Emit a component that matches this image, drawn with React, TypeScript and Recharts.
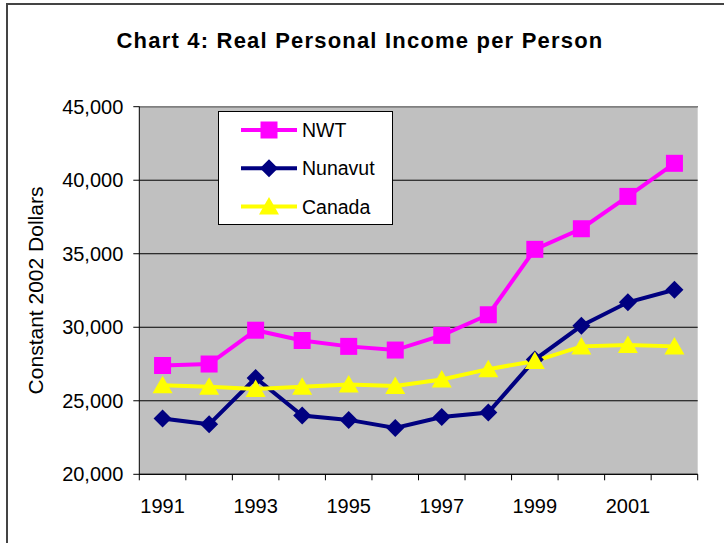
import React from 'react';
import { ComposedChart, Line, XAxis, YAxis, CartesianGrid, ReferenceLine, Legend } from 'recharts';

const years = ['1991', '1992', '1993', '1994', '1995', '1996', '1997', '1998', '1999', '2000', '2001', '2002'];
const nwt = [27400, 27500, 29800, 29100, 28700, 28450, 29450, 30850, 35300, 36700, 38900, 41150];
const nunavut = [23800, 23400, 26550, 24000, 23700, 23150, 23900, 24200, 27800, 30100, 31700, 32550];
const canada = [26050, 25950, 25800, 25950, 26100, 26000, 26450, 27150, 27700, 28700, 28800, 28700];
const yTicks = [20000, 25000, 30000, 35000, 40000, 45000];
const seriesOrder = ['NWT', 'Nunavut', 'Canada'];

const data = years.map((y, i) => ({ year: y, NWT: nwt[i], Nunavut: nunavut[i], Canada: canada[i] }));

const FONT = "Arial, 'Liberation Sans', sans-serif";
const X_TICK_SIZE = 6;
const X_TICK_MARGIN = 18;

const Square = ({ cx, cy, color, s = 8.5 }: any) => (
  <rect x={cx - s} y={cy - s} width={2 * s} height={2 * s} fill={color} />
);
const Diamond = ({ cx, cy, color, r = 9 }: any) => (
  <polygon points={`${cx},${cy - r} ${cx + r},${cy} ${cx},${cy + r} ${cx - r},${cy}`} fill={color} />
);
const Triangle = ({ cx, cy, color }: any) => (
  <polygon points={`${cx},${cy - 9.5} ${cx + 10},${cy + 8} ${cx - 10},${cy + 8}`} fill={color} />
);

const markerFor = (name: string, cx: number, cy: number, color: string) => {
  if (name === 'NWT') return <Square cx={cx} cy={cy} color={color} />;
  if (name === 'Nunavut') return <Diamond cx={cx} cy={cy} color={color} />;
  return <Triangle cx={cx} cy={cy} color={color} />;
};

const makeDot = (name: string, color: string) => (props: any) => {
  const { cx, cy, index } = props;
  if (cx == null || cy == null) return <g key={`${name}-${index}`} />;
  return <g key={`${name}-${index}`}>{markerFor(name, cx, cy, color)}</g>;
};

const XTick = (props: any) => {
  const { x, y, payload, index } = props;
  const half = payload && typeof payload.offset === 'number' ? payload.offset : 0;
  const axisY = y - X_TICK_SIZE - X_TICK_MARGIN;
  return (
    <g>
      <line x1={x - half} x2={x - half} y1={axisY} y2={axisY + X_TICK_SIZE} stroke="#000" strokeWidth={1} />
      {index === years.length - 1 && (
        <line x1={x + half} x2={x + half} y1={axisY} y2={axisY + X_TICK_SIZE} stroke="#000" strokeWidth={1} />
      )}
      {index % 2 === 0 && (
        <text x={x} y={y} dy="0.71em" textAnchor="middle" fontSize={20} fill="#000" fontFamily={FONT}>
          {payload.value}
        </text>
      )}
    </g>
  );
};

const LegendBox = (props: any) => {
  const items = (props.payload || [])
    .filter((p: any) => p.type !== 'none')
    .slice()
    .sort((a: any, b: any) => seriesOrder.indexOf(a.value) - seriesOrder.indexOf(b.value));
  return (
    <div style={{ width: 175, height: 114, background: '#fff', border: '1px solid #000', boxSizing: 'border-box' }}>
      <svg width={173} height={112} style={{ display: 'block' }}>
        {items.map((it: any, i: number) => {
          const cy = 18 + i * 38.3;
          return (
            <g key={it.value}>
              <line x1={22} x2={78} y1={cy} y2={cy} stroke={it.color} strokeWidth={4} />
              {markerFor(it.value, 50, cy, it.color)}
              <text x={83} y={cy} dy="0.36em" fontSize={19.5} fontFamily={FONT} fill="#000">
                {it.value}
              </text>
            </g>
          );
        })}
      </svg>
    </div>
  );
};

export default function App() {
  return (
    <div style={{ position: 'absolute', left: 0, top: 0, width: 724, height: 543, overflow: 'hidden', background: '#fff', fontFamily: FONT }}>
      <div style={{ position: 'absolute', left: 6, top: 3, width: 900, height: 900, border: '2px solid #444' }} />
      <div
        style={{
          position: 'absolute',
          left: 0,
          top: 29.7,
          width: 720,
          textAlign: 'center',
          fontSize: 22,
          lineHeight: '22px',
          fontWeight: 'bold',
          letterSpacing: '1.2px',
          color: '#000',
          fontFamily: FONT,
        }}
      >
        Chart 4: Real Personal Income per Person
      </div>
      <div style={{ position: 'absolute', left: 0, top: 0 }}>
        <ComposedChart
          width={724}
          height={543}
          data={data}
          margin={{ top: 106.7, right: 26.3, bottom: 0, left: 0 }}
          style={{ fontFamily: FONT }}
        >
          <CartesianGrid vertical={false} fill="#C0C0C0" stroke="#000" strokeWidth={1} />
          <XAxis
            dataKey="year"
            scale="band"
            height={68.7}
            interval={0}
            tickLine={false}
            tickSize={X_TICK_SIZE}
            tickMargin={X_TICK_MARGIN}
            tick={<XTick />}
            axisLine={{ stroke: '#000', strokeWidth: 1 }}
          />
          <YAxis
            width={139.3}
            domain={[20000, 45000]}
            ticks={yTicks}
            interval={0}
            tickSize={6}
            tickMargin={10}
            tickLine={{ stroke: '#000' }}
            axisLine={{ stroke: '#000', strokeWidth: 1 }}
            tick={{ fontSize: 20, fill: '#000', fontFamily: FONT }}
            tickFormatter={(v: number) => v.toLocaleString('en-US')}
            label={{
              value: 'Constant 2002 Dollars',
              angle: -90,
              position: 'center',
              dx: -34.5,
              style: { fontSize: 21, fill: '#000', fontFamily: FONT },
            }}
          />
          <YAxis
            yAxisId="r"
            orientation="right"
            width={0}
            domain={[20000, 45000]}
            tick={false}
            tickLine={false}
            axisLine={{ stroke: '#808080', strokeWidth: 1.5 }}
          />
          <ReferenceLine y={45000} stroke="#808080" strokeWidth={1.5} />
          <Legend
            layout="horizontal"
            verticalAlign="middle"
            align="center"
            content={<LegendBox />}
            wrapperStyle={{ position: 'absolute', left: 217.7, top: 110.7, width: 175, height: 114 }}
          />
          <Line
            dataKey="NWT"
            name="NWT"
            stroke="#FF00FF"
            strokeWidth={4}
            dot={makeDot('NWT', '#FF00FF')}
            activeDot={false}
            isAnimationActive={false}
          />
          <Line
            dataKey="Nunavut"
            name="Nunavut"
            stroke="#000080"
            strokeWidth={4}
            dot={makeDot('Nunavut', '#000080')}
            activeDot={false}
            isAnimationActive={false}
          />
          <Line
            dataKey="Canada"
            name="Canada"
            stroke="#FFFF00"
            strokeWidth={4}
            dot={makeDot('Canada', '#FFFF00')}
            activeDot={false}
            isAnimationActive={false}
          />
        </ComposedChart>
      </div>
    </div>
  );
}
